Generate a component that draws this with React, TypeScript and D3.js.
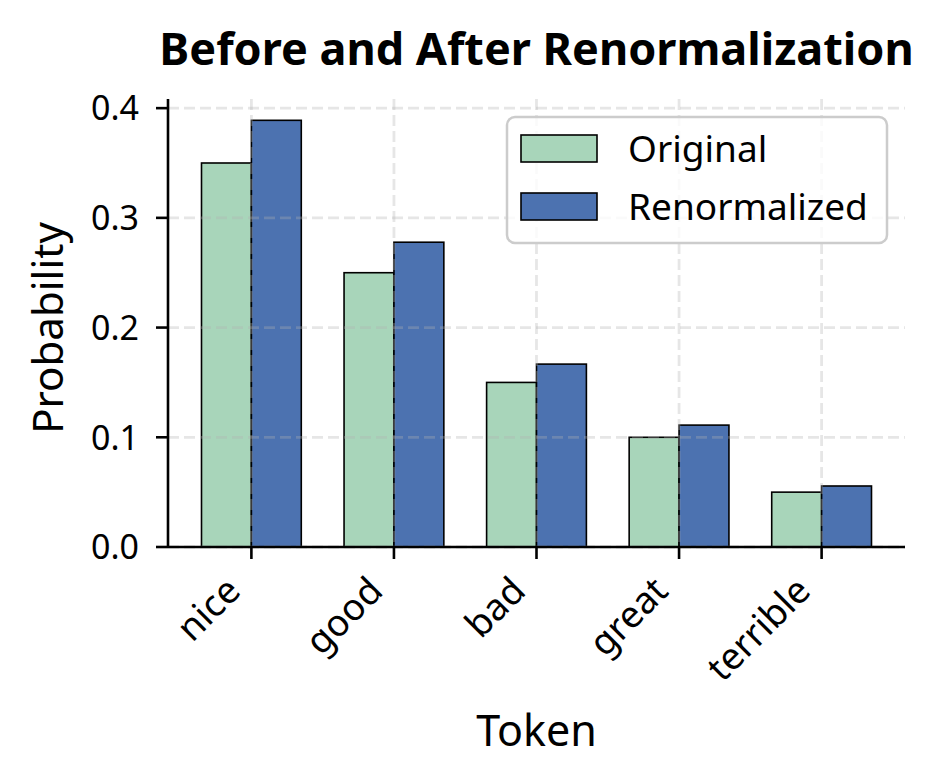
import React from "react";
import * as d3 from "d3";

const tokens = ["nice", "good", "bad", "great", "terrible"];
const original = [0.35, 0.25, 0.15, 0.1, 0.05];
const renormalized = [0.3889, 0.2778, 0.1667, 0.1111, 0.0556];
const yTicks = [0, 0.1, 0.2, 0.3, 0.4];
const seriesNames = ["Original", "Renormalized"];
const seriesColors = ["#a8d5ba", "#4c72b0"];

const FONT = "'Noto Sans', sans-serif";

export default function App() {
  const W = 945, H = 784;
  const left = 168, right = 905, top = 99, bottom = 547;
  const barW = 0.35;
  const x = d3.scaleLinear().domain([-0.585, tokens.length - 1 + 0.585]).range([left, right]);
  const y = d3.scaleLinear().domain([0, 0.40833]).range([bottom, top]);
  const fmt = d3.format(".1f");
  const gridStyle = { stroke: "#b0b0b0", strokeOpacity: 0.32, strokeWidth: 2.8, strokeDasharray: "11,5" };

  return (
    <svg width={W} height={H} style={{ position: "absolute", left: 0, top: 0, background: "#fff" }} fontFamily={FONT}>
      <rect x={0} y={0} width={W} height={H} fill="#fff" />
      {/* bars */}
      {tokens.map((t, i) => (
        <g key={t}>
          <rect x={x(i - barW)} y={y(original[i])} width={x(i) - x(i - barW)} height={y(0) - y(original[i])}
            fill={seriesColors[0]} stroke="#000" strokeWidth={1.6} />
          <rect x={x(i)} y={y(renormalized[i])} width={x(i + barW) - x(i)} height={y(0) - y(renormalized[i])}
            fill={seriesColors[1]} stroke="#000" strokeWidth={1.6} />
        </g>
      ))}
      {/* grid */}
      {yTicks.map((v) => (
        <line key={"gy" + v} x1={left} x2={right} y1={y(v)} y2={y(v)} {...gridStyle} />
      ))}
      {tokens.map((t, i) => (
        <line key={"gx" + t} x1={x(i)} x2={x(i)} y1={top} y2={bottom} {...gridStyle} />
      ))}
      {/* spines */}
      <line x1={left} x2={left} y1={top} y2={bottom} stroke="#000" strokeWidth={2.6} />
      <line x1={left} x2={right} y1={bottom} y2={bottom} stroke="#000" strokeWidth={2.6} />
      {/* y ticks */}
      {yTicks.map((v) => (
        <g key={"ty" + v}>
          <line x1={left - 12} x2={left} y1={y(v)} y2={y(v)} stroke="#000" strokeWidth={2.6} />
          <text x={left - 29} y={y(v)} dy="0.36em" textAnchor="end" fontSize={34} fill="#000">{fmt(v)}</text>
        </g>
      ))}
      {/* x ticks */}
      {tokens.map((t, i) => (
        <g key={"tx" + t}>
          <line x1={x(i)} x2={x(i)} y1={bottom} y2={bottom + 12} stroke="#000" strokeWidth={2.6} />
          <text transform={`translate(${x(i) - 9},${bottom + 46}) rotate(-45)`} textAnchor="end" fontSize={37} fill="#000">{t}</text>
        </g>
      ))}
      {/* labels */}
      <text x={(left + right) / 2} y={65} textAnchor="middle" fontSize={45} fontWeight="bold" fill="#000">Before and After Renormalization</text>
      <text transform={`translate(63,${(top + bottom) / 2 + 5}) rotate(-90)`} textAnchor="middle" fontSize={42} fill="#000">Probability</text>
      <text x={(left + right) / 2} y={746} textAnchor="middle" fontSize={43} fill="#000">Token</text>
      {/* legend */}
      <g>
        <rect x={507} y={117} width={380} height={126} rx={8} fill="#fff" fillOpacity={0.8} stroke="#cccccc" strokeWidth={2.5} />
        {seriesNames.map((s, k) => (
          <g key={s}>
            <rect x={521} y={135 + k * 58} width={76} height={27} fill={seriesColors[k]} stroke="#000" strokeWidth={1.6} />
            <text x={628} y={162 + k * 58} fontSize={37} fill="#000">{s}</text>
          </g>
        ))}
      </g>
    </svg>
  );
}
